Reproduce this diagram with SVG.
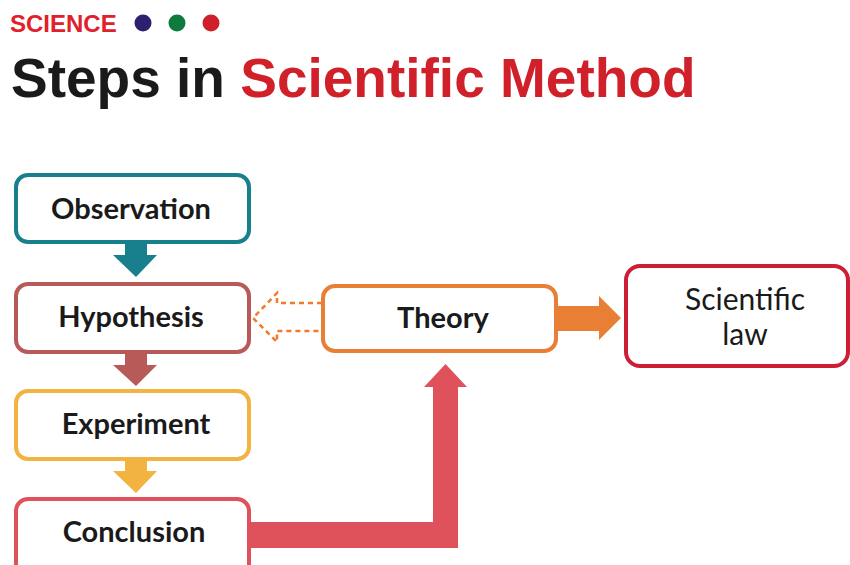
<svg xmlns="http://www.w3.org/2000/svg" width="850" height="565" viewBox="0 0 850 565">
<style>
.box{fill:#fff;stroke-width:4}
.lbl{font-family:Lato,"Open Sans","Liberation Sans",sans-serif;font-weight:700;font-size:29px;fill:#1a1a1a;text-anchor:middle}
.reg{font-weight:400;font-size:30px}
</style>
<rect width="850" height="565" fill="#fff"/>
<g id="header">
<text x="10" y="32" font-family="'Liberation Sans',Arial,sans-serif" font-weight="700" font-size="24" fill="#e0202a">SCIENCE</text>
<circle cx="143" cy="23" r="8.5" fill="#2b2170"/>
<circle cx="177" cy="23" r="8.5" fill="#0f7a3e"/>
<circle cx="211" cy="23" r="8.5" fill="#cf1f2b"/>
<text x="11" y="97" font-family="'Liberation Sans',Arial,sans-serif" font-weight="700" font-size="55" fill="#1a1a1a">Steps in <tspan fill="#d0202a">Scientific Method</tspan></text>
</g>
<g id="connectors">
<path d="M125,243 H147 V255 H157 L136,277 L113,255 H125 Z" fill="#17808c"/>
<path d="M125,353 H147 V365 H157 L136,386 L113,365 H125 Z" fill="#b85a58"/>
<path d="M125,460 H147 V471 H157 L136,493 L113,471 H125 Z" fill="#f3b340"/>
<path d="M250,522 H433 V387 H424 L445.5,364 L467,387 H458 V548 H250 Z" fill="#df525c"/>
<path d="M557,306 H599 V296 L621,318 L599,340 V331 H557 Z" fill="#e97f35"/>
<path d="M322,303 H277 V293 L253,318 L277,342 V331 H322" fill="none" stroke="#f27a2a" stroke-width="2.5" stroke-dasharray="5,4"/>
</g>
<g id="observation">
<rect class="box" x="16" y="175" width="233" height="67" rx="12" stroke="#17808c"/>
<text class="lbl" x="131" y="219">Observation</text>
</g>
<g id="hypothesis">
<rect class="box" x="16" y="284" width="233" height="68" rx="12" stroke="#b85a58"/>
<text class="lbl" x="131" y="327">Hypothesis</text>
</g>
<g id="experiment">
<rect class="box" x="16" y="391" width="233" height="68" rx="12" stroke="#f3b340"/>
<text class="lbl" x="136" y="434">Experiment</text>
</g>
<g id="conclusion">
<rect class="box" x="16" y="499" width="233" height="80" rx="12" stroke="#df525c"/>
<text class="lbl" x="134" y="542">Conclusion</text>
</g>
<g id="theory">
<rect class="box" x="323" y="286" width="233" height="65" rx="12" stroke="#e97f35"/>
<text class="lbl" x="443" y="328">Theory</text>
</g>
<g id="scientific-law">
<rect class="box" x="626" y="266" width="222" height="100" rx="14" stroke="#cc1f36"/>
<text class="lbl reg" x="745" y="310">Scientific</text>
<text class="lbl reg" x="745" y="345">law</text>
</g>
</svg>
